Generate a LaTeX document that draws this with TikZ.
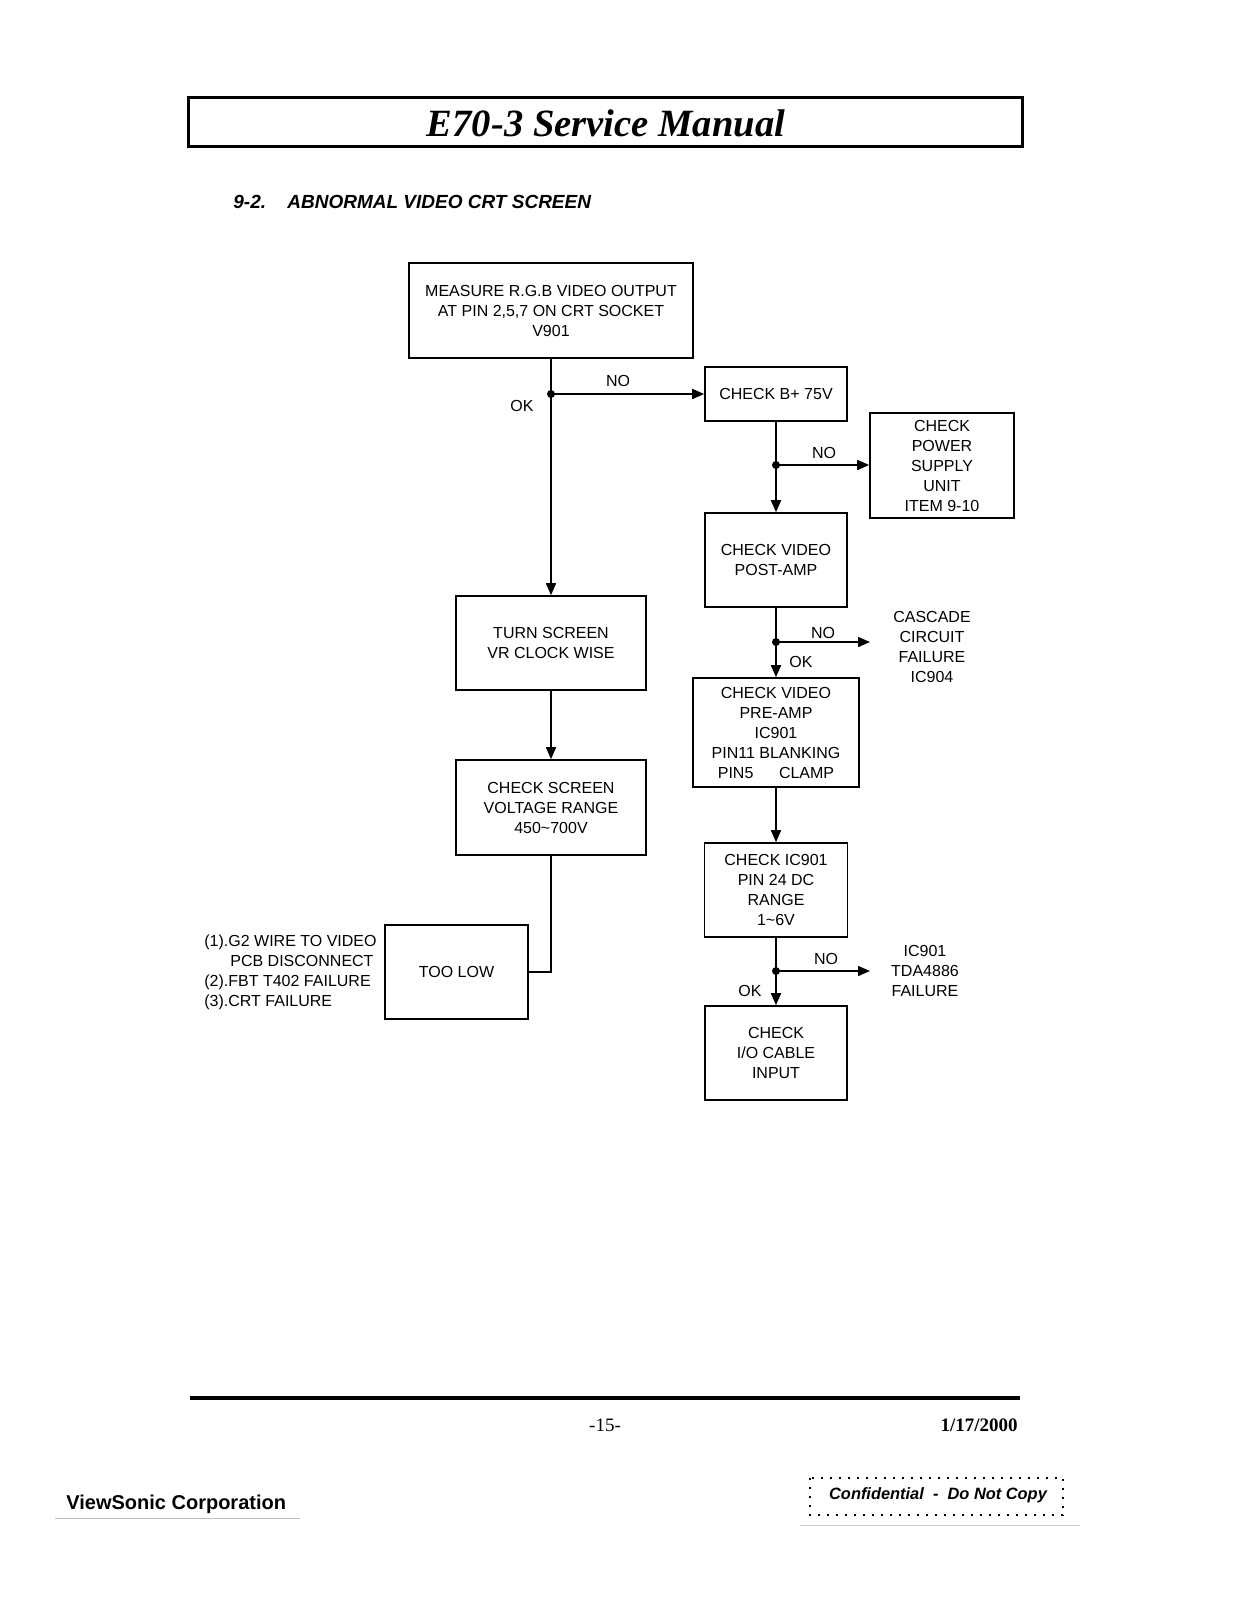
\documentclass[tikz,border=0pt]{standalone}
\usepackage{fontspec}
\setmainfont{Liberation Sans}
\newfontfamily\serifface{Liberation Serif}
\usetikzlibrary{arrows.meta}
\begin{document}
\begin{tikzpicture}[x=0.5pt,y=-0.5pt,
  box/.style={draw,line width=0.8pt,inner sep=0pt,align=center,font=\fontsize{8}{10}\selectfont},
  lbl/.style={inner sep=0pt,align=center,font=\fontsize{8}{10}\selectfont},
  conn/.style={line width=0.8pt},
  arr/.style={line width=0.8pt,-{Triangle[length=6pt,width=5pt]}},
  dot/.style={circle,fill,inner sep=0pt,minimum size=4pt}]
\useasboundingbox (0,0) rectangle (1240,1601);
% header
\node[draw,line width=1.5pt,minimum width=417pt,minimum height=24.5pt,inner sep=0pt] (hdr) at (605,121.5) {};
\node[inner sep=0pt,font=\serifface\bfseries\itshape\fontsize{19.3}{22}\selectfont] (htxt) at (606,123) {E70-3 Service Manual};
\node[inner sep=0pt,anchor=west,font=\bfseries\itshape\fontsize{9.5}{11}\selectfont] (secnum) at (233,202) {9-2.};
\node[inner sep=0pt,anchor=west,font=\bfseries\itshape\fontsize{9.5}{11}\selectfont] (sectitle) at (287,202) {ABNORMAL VIDEO CRT SCREEN};
% boxes
\node[box,minimum width=142pt,minimum height=47.5pt] (meas) at (551,310.5) {MEASURE R.G.B VIDEO OUTPUT\\AT PIN 2,5,7 ON CRT SOCKET\\V901};
\node[box,minimum width=71pt,minimum height=27pt] (b75) at (776,394) {CHECK B+ 75V};
\node[box,minimum width=72pt,minimum height=52.5pt] (psu) at (942,465.5) {CHECK\\POWER\\SUPPLY\\UNIT\\ITEM 9-10};
\node[box,minimum width=71pt,minimum height=47pt] (post) at (776,560) {CHECK VIDEO\\POST-AMP};
\node[box,minimum width=95pt,minimum height=47pt] (turn) at (551,643) {TURN SCREEN\\VR CLOCK WISE};
\node[box,minimum width=95pt,minimum height=47.5pt] (scr) at (551,807.5) {CHECK SCREEN\\VOLTAGE RANGE\\450\textasciitilde700V};
\node[box,minimum width=83pt,minimum height=54.5pt] (pre) at (776,732.5) {CHECK VIDEO\\PRE-AMP\\IC901\\PIN11 BLANKING\\PIN5\hspace{1.6em}CLAMP};
\node[box,minimum width=71.5pt,minimum height=47pt] (ic) at (776,890) {CHECK IC901\\PIN 24 DC\\RANGE\\1\textasciitilde6V};
\node[box,minimum width=71.5pt,minimum height=47pt] (low) at (456.5,972) {TOO LOW};
\node[box,minimum width=71pt,minimum height=47pt] (io) at (776,1053) {CHECK\\I/O CABLE\\INPUT};
% side texts
\node[lbl] (casc) at (932,647) {CASCADE\\CIRCUIT\\FAILURE\\IC904};
\node[lbl] (tda) at (925,971) {IC901\\TDA4886\\FAILURE};
\node[lbl,align=left,anchor=west] (causes) at (204,972) {(1).G2 WIRE TO VIDEO\\\hspace*{13pt}PCB DISCONNECT\\(2).FBT T402 FAILURE\\(3).CRT FAILURE};
% junctions
\coordinate (j1) at (551,394);
\coordinate (j2) at (776,465);
\coordinate (j3) at (776,642);
\coordinate (e3) at (870,642);
\coordinate (j4) at (776,971);
\coordinate (e4) at (870,971);
% connectors
\draw[arr] (meas.south) -- (turn.north);
\draw[arr] (j1) -- (b75.west);
\node[dot] at (j1) {};
\draw[arr] (b75.south) -- (post.north);
\draw[arr] (j2) -- (j2 -| psu.west);
\node[dot] at (j2) {};
\draw[arr] (post.south) -- (pre.north);
\draw[arr] (j3) -- (e3);
\node[dot] at (j3) {};
\draw[arr] (turn.south) -- (scr.north);
\draw[conn] (scr.south) |- (low.east);
\draw[arr] (pre.south) -- (ic.north);
\draw[arr] (ic.south) -- (io.north);
\draw[arr] (j4) -- (e4);
\node[dot] at (j4) {};
% connector labels
\node[lbl] (l1) at (618,381) {NO};
\node[lbl] (l2) at (522,406) {OK};
\node[lbl] (l3) at (824,453) {NO};
\node[lbl] (l4) at (823,633) {NO};
\node[lbl] (l5) at (801,662) {OK};
\node[lbl] (l6) at (826,959) {NO};
\node[lbl] (l7) at (750,991) {OK};
% footer
\draw[line width=2pt] (190,1398) -- (1020,1398);
\node[inner sep=0pt,font=\serifface\fontsize{9.5}{11}\selectfont] (pg) at (605,1425) {-15-};
\node[inner sep=0pt,anchor=east,font=\serifface\bfseries\fontsize{9.5}{11}\selectfont] (date) at (1018,1425) {1/17/2000};
\node[inner sep=0pt,anchor=west,font=\bfseries\fontsize{10}{12}\selectfont] (corp) at (66,1504) {ViewSonic Corporation};
\draw[gray!50,line width=0.4pt] (55,1518) -- (300,1518);
\draw[line width=1.1pt,dash pattern=on 1.1pt off 3.4pt] (810,1478) rectangle (1063,1515);
\node[inner sep=0pt,font=\bfseries\itshape\fontsize{8.2}{10}\selectfont] (conf) at (938,1495) {Confidential~~-~~Do Not Copy};
\draw[gray!40,line width=0.4pt] (800,1525) -- (1080,1525);
\end{tikzpicture}
\end{document}
